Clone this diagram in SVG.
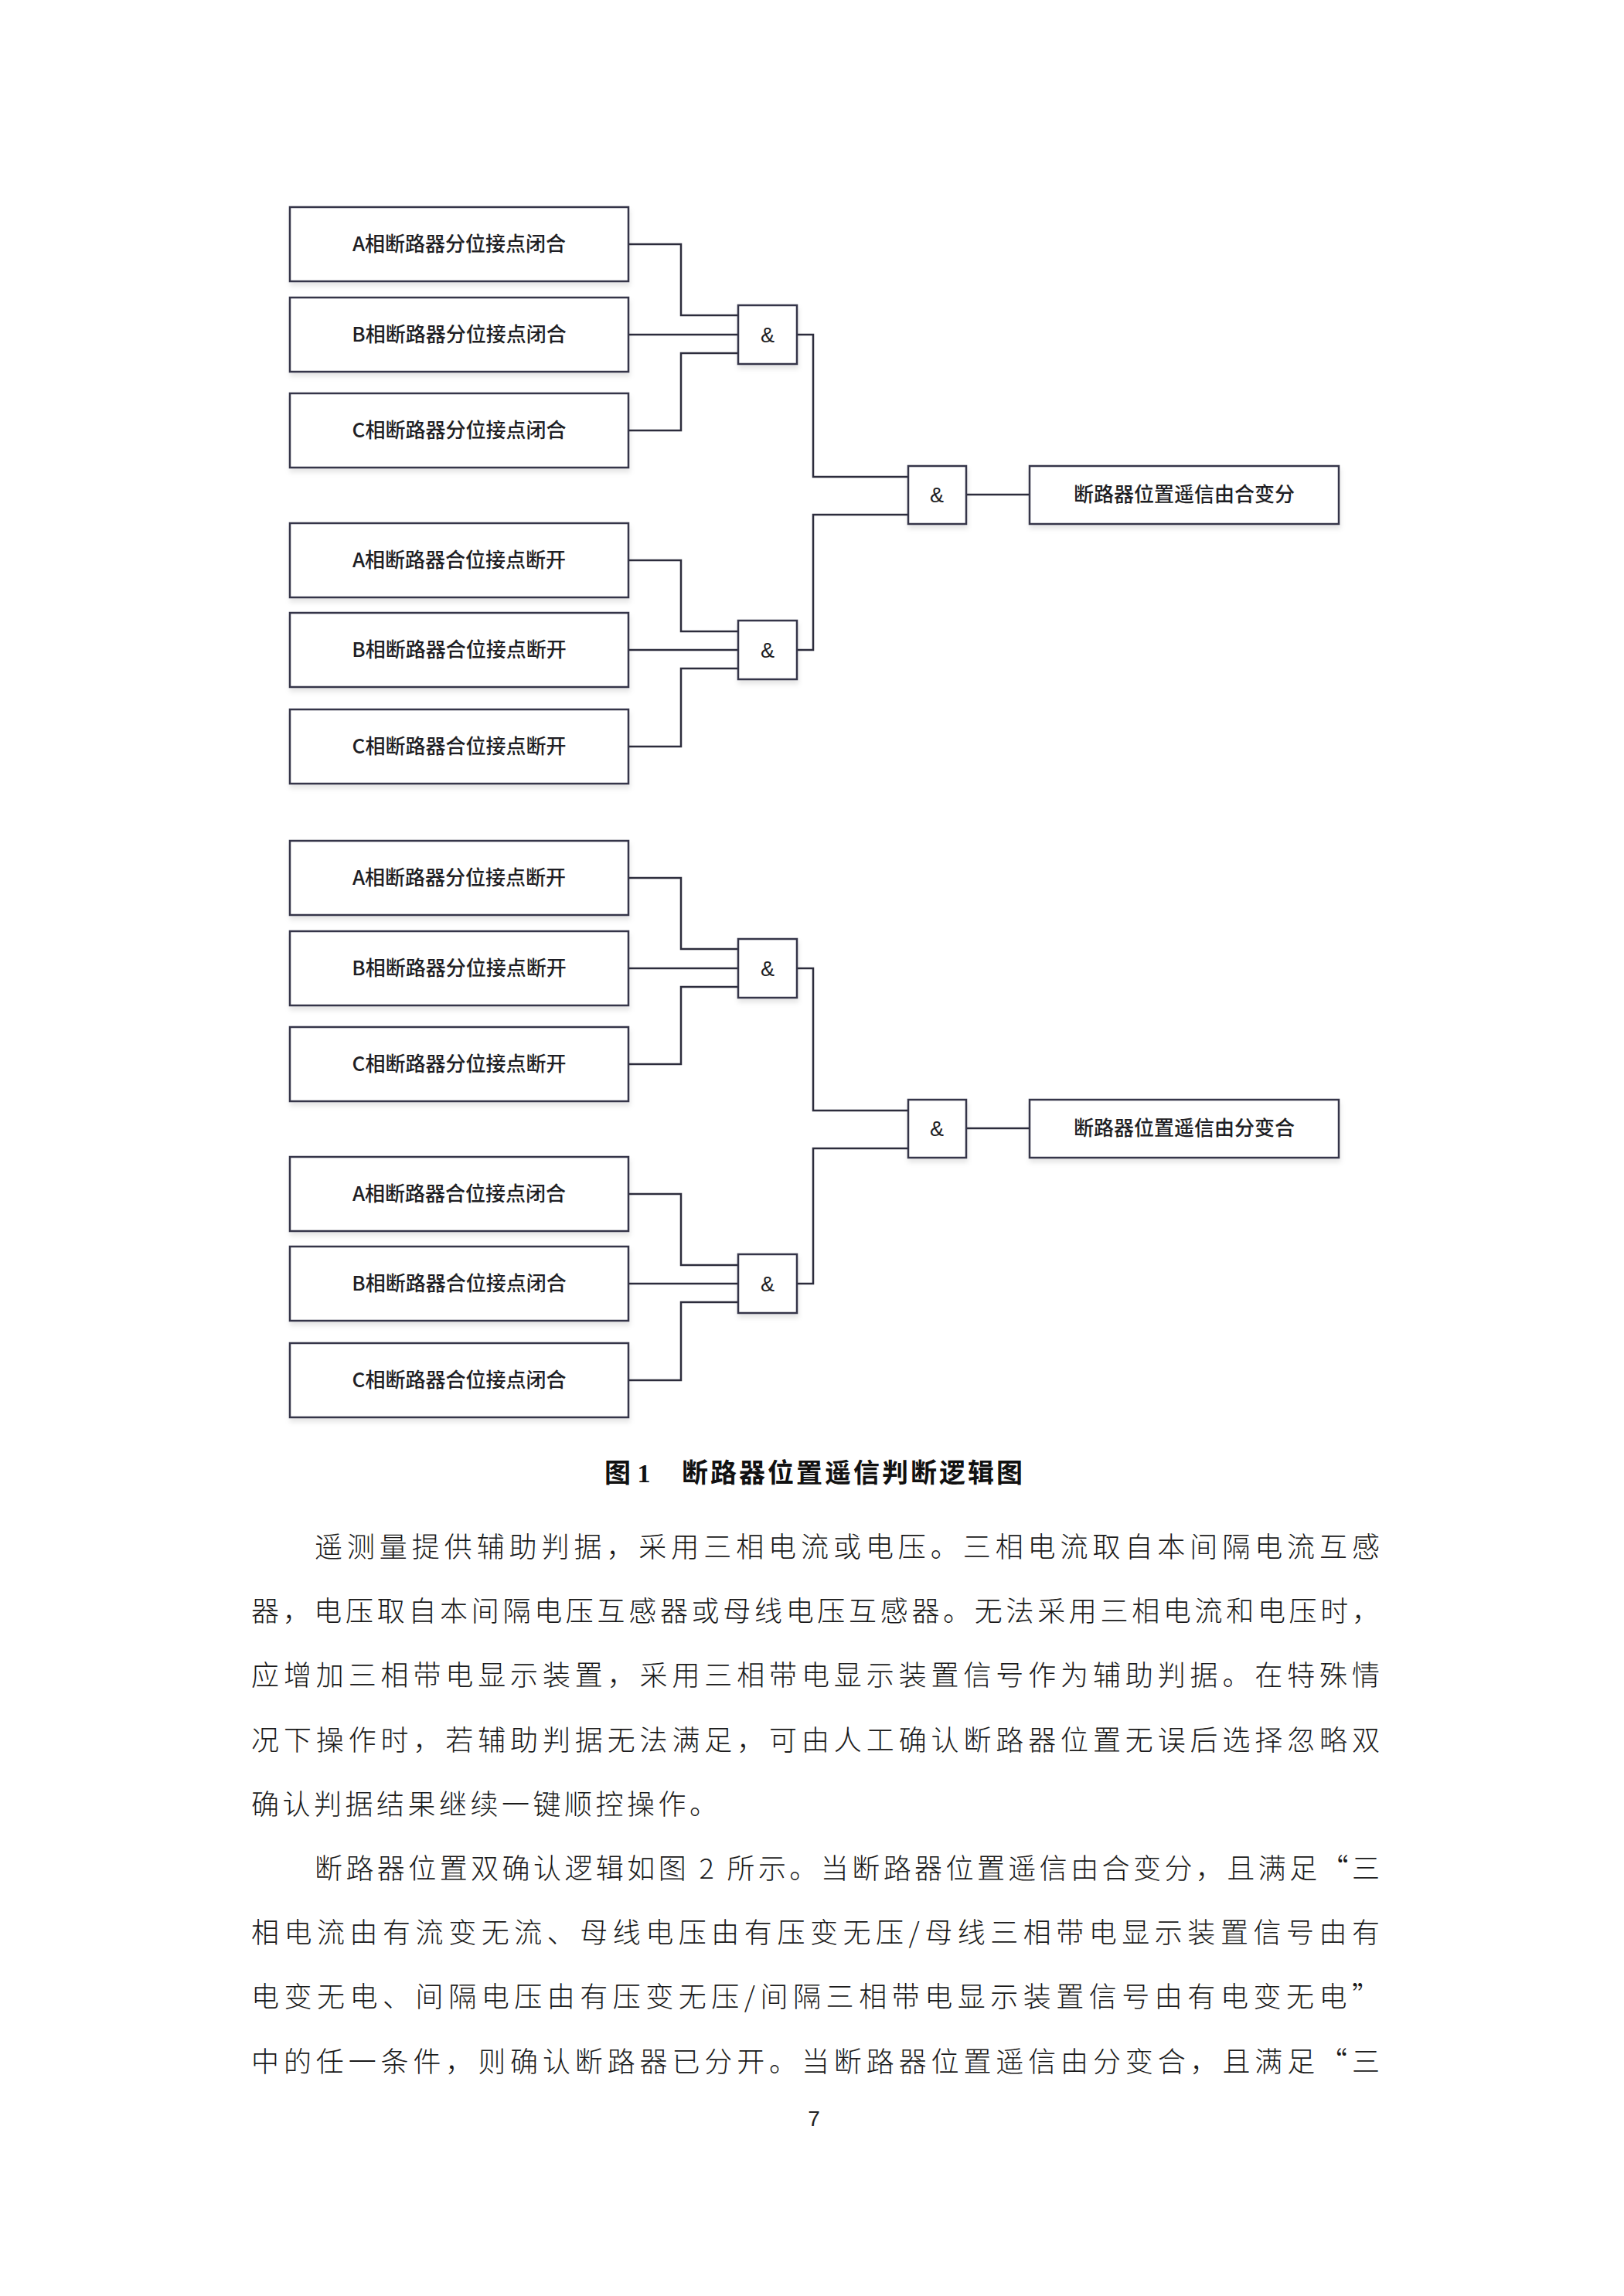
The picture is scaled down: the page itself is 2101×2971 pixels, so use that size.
<svg xmlns="http://www.w3.org/2000/svg" width="2101" height="2971" viewBox="0 0 2101 2971">
<style>
.bg{fill:#ffffff}
.box{fill:#ffffff;stroke:#34344a;stroke-width:2.5;filter:url(#sh)}
.lbl{font-family:"Noto Sans CJK SC","Liberation Sans",sans-serif;font-size:26px;font-weight:500;fill:#1e1e24;text-anchor:middle}
.amp{font-family:"Liberation Sans","Noto Sans CJK SC",sans-serif;font-size:27px;fill:#1e1e24;text-anchor:middle}
.wire{fill:none;stroke:#2c2c3c;stroke-width:2.5}
.cap{font-family:"Liberation Serif","Noto Sans CJK SC",serif;font-size:34px;font-weight:bold;fill:#111}
.body{font-family:"Noto Sans CJK SC","Liberation Serif",sans-serif;font-size:36px;font-weight:300;fill:#1a1a1a}
.pg{font-family:"Liberation Sans",sans-serif;font-size:28px;fill:#222;text-anchor:middle}
</style>
<defs>
<filter id="sh" x="-10%" y="-10%" width="120%" height="140%">
<feDropShadow dx="1" dy="5" stdDeviation="3" flood-color="#000" flood-opacity="0.10"/>
</filter>
</defs>
<rect class="bg" x="0" y="0" width="2101" height="2971"/>

<g id="connectors">
<path class="wire" d="M813,316 H881 V408 H955"/>
<path class="wire" d="M813,433 H955"/>
<path class="wire" d="M813,557 H881 V457 H955"/>
<path class="wire" d="M1031,433 H1052 V617 H1175"/>
<path class="wire" d="M813,725 H881 V817 H955"/>
<path class="wire" d="M813,841 H955"/>
<path class="wire" d="M813,966 H881 V865 H955"/>
<path class="wire" d="M1031,841 H1052 V666 H1175"/>
<path class="wire" d="M1250,640 H1332"/>

<path class="wire" d="M813,1136 H881 V1228 H955"/>
<path class="wire" d="M813,1253 H955"/>
<path class="wire" d="M813,1377 H881 V1277 H955"/>
<path class="wire" d="M1031,1253 H1052 V1437 H1175"/>
<path class="wire" d="M813,1545 H881 V1637 H955"/>
<path class="wire" d="M813,1661 H955"/>
<path class="wire" d="M813,1786 H881 V1685 H955"/>
<path class="wire" d="M1031,1661 H1052 V1486 H1175"/>
<path class="wire" d="M1250,1460 H1332"/>
</g>

<g id="n_a1"><rect class="box" x="375" y="268" width="438" height="96"/><text class="lbl" x="594" y="325">A相断路器分位接点闭合</text></g>
<g id="n_b1"><rect class="box" x="375" y="385" width="438" height="96"/><text class="lbl" x="594" y="442">B相断路器分位接点闭合</text></g>
<g id="n_c1"><rect class="box" x="375" y="509" width="438" height="96"/><text class="lbl" x="594" y="566">C相断路器分位接点闭合</text></g>
<g id="n_a2"><rect class="box" x="375" y="677" width="438" height="96"/><text class="lbl" x="594" y="734">A相断路器合位接点断开</text></g>
<g id="n_b2"><rect class="box" x="375" y="793" width="438" height="96"/><text class="lbl" x="594" y="850">B相断路器合位接点断开</text></g>
<g id="n_c2"><rect class="box" x="375" y="918" width="438" height="96"/><text class="lbl" x="594" y="975">C相断路器合位接点断开</text></g>
<g id="n_g1"><rect class="box" x="955" y="395" width="76" height="76"/><text class="amp" x="993" y="443">&amp;</text></g>
<g id="n_g2"><rect class="box" x="955" y="803" width="76" height="76"/><text class="amp" x="993" y="851">&amp;</text></g>
<g id="n_g3"><rect class="box" x="1175" y="603" width="75" height="75"/><text class="amp" x="1212" y="650">&amp;</text></g>
<g id="n_out1"><rect class="box" x="1332" y="603" width="400" height="75"/><text class="lbl" x="1532" y="649">断路器位置遥信由合变分</text></g>

<g id="n_a3"><rect class="box" x="375" y="1088" width="438" height="96"/><text class="lbl" x="594" y="1145">A相断路器分位接点断开</text></g>
<g id="n_b3"><rect class="box" x="375" y="1205" width="438" height="96"/><text class="lbl" x="594" y="1262">B相断路器分位接点断开</text></g>
<g id="n_c3"><rect class="box" x="375" y="1329" width="438" height="96"/><text class="lbl" x="594" y="1386">C相断路器分位接点断开</text></g>
<g id="n_a4"><rect class="box" x="375" y="1497" width="438" height="96"/><text class="lbl" x="594" y="1554">A相断路器合位接点闭合</text></g>
<g id="n_b4"><rect class="box" x="375" y="1613" width="438" height="96"/><text class="lbl" x="594" y="1670">B相断路器合位接点闭合</text></g>
<g id="n_c4"><rect class="box" x="375" y="1738" width="438" height="96"/><text class="lbl" x="594" y="1795">C相断路器合位接点闭合</text></g>
<g id="n_g4"><rect class="box" x="955" y="1215" width="76" height="76"/><text class="amp" x="993" y="1263">&amp;</text></g>
<g id="n_g5"><rect class="box" x="955" y="1623" width="76" height="76"/><text class="amp" x="993" y="1671">&amp;</text></g>
<g id="n_g6"><rect class="box" x="1175" y="1423" width="75" height="75"/><text class="amp" x="1212" y="1470">&amp;</text></g>
<g id="n_out2"><rect class="box" x="1332" y="1423" width="400" height="75"/><text class="lbl" x="1532" y="1469">断路器位置遥信由分变合</text></g>

<g id="caption">
<text class="cap" x="782" y="1918">图 1</text>
<text class="cap" x="882" y="1918" textLength="441" lengthAdjust="spacing">断路器位置遥信判断逻辑图</text>
</g>

<g id="bodytext">
<text class="body" x="407" y="2015" textLength="1378" lengthAdjust="spacing">遥测量提供辅助判据，采用三相电流或电压。三相电流取自本间隔电流互感</text>
<text class="body" x="325" y="2098" textLength="1460" lengthAdjust="spacing">器，电压取自本间隔电压互感器或母线电压互感器。无法采用三相电流和电压时，</text>
<text class="body" x="325" y="2181" textLength="1460" lengthAdjust="spacing">应增加三相带电显示装置，采用三相带电显示装置信号作为辅助判据。在特殊情</text>
<text class="body" x="325" y="2265" textLength="1460" lengthAdjust="spacing">况下操作时，若辅助判据无法满足，可由人工确认断路器位置无误后选择忽略双</text>
<text class="body" x="325" y="2348" textLength="603" lengthAdjust="spacing">确认判据结果继续一键顺控操作。</text>
<text class="body" x="407" y="2431" textLength="1378" lengthAdjust="spacing">断路器位置双确认逻辑如图 2 所示。当断路器位置遥信由合变分，且满足“三</text>
<text class="body" x="325" y="2514" textLength="1460" lengthAdjust="spacing">相电流由有流变无流、母线电压由有压变无压/母线三相带电显示装置信号由有</text>
<text class="body" x="325" y="2597" textLength="1460" lengthAdjust="spacing">电变无电、间隔电压由有压变无压/间隔三相带电显示装置信号由有电变无电”</text>
<text class="body" x="325" y="2681" textLength="1460" lengthAdjust="spacing">中的任一条件，则确认断路器已分开。当断路器位置遥信由分变合，且满足“三</text>
</g>

<text class="pg" x="1053" y="2751">7</text>
</svg>
